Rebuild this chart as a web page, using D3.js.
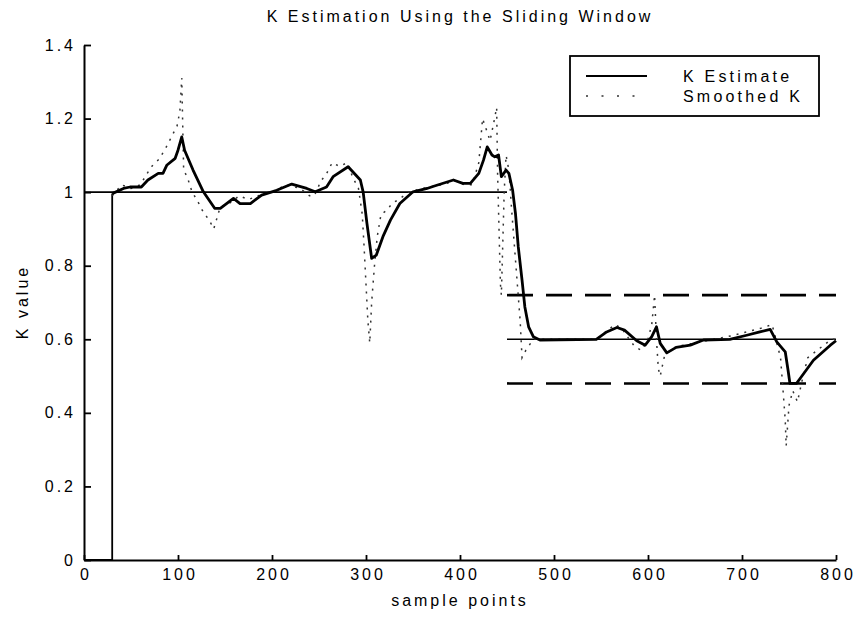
<!DOCTYPE html>
<html><head><meta charset="utf-8">
<script src="https://cdn.jsdelivr.net/npm/d3@7"></script>
<style>body{margin:0;background:#fff}text{font-family:"Liberation Sans",Arial,sans-serif;fill:#000}</style>
</head><body><svg id="c" width="860" height="618"></svg>
<script>
const title = "K Estimation Using the Sliding Window";
const xLabel = "sample points";
const yLabel = "K value";
const xTicks = [0,100,200,300,400,500,600,700,800];
const yTicks = [0,0.2,0.4,0.6,0.8,1,1.2,1.4];
const legendLabels = ["K Estimate","Smoothed K"];

// start-up of the estimate (window not yet filled)
const startX = [0,30,30];
const startY = [0,0,0.996];

// K estimate (thick solid)
const estX = [30,42,49,61,68,79,84,88,97,100,104,107,116,127,139,145,159,166,177,189,205,221,237,246,258,265,281,294,297,301,306,311,318,326,336,350,365,372,393,403,411,420,425,429,434,437,441,444,449,452,456,459,462,466,469,473,478,485,545,556,567,575,588,597,604,609,613,620,630,645,659,687,705,719,730,737,746,749,751,758,762,776,794,800];
const estY = [0.996,1.010,1.014,1.014,1.033,1.051,1.051,1.073,1.092,1.114,1.150,1.114,1.060,1.001,0.956,0.956,0.983,0.969,0.969,0.992,1.005,1.022,1.010,1.001,1.014,1.042,1.069,1.033,1.000,0.915,0.820,0.829,0.879,0.924,0.969,1.001,1.010,1.016,1.033,1.024,1.024,1.051,1.087,1.123,1.101,1.096,1.101,1.042,1.060,1.051,1.005,0.942,0.851,0.761,0.688,0.634,0.607,0.598,0.600,0.620,0.632,0.625,0.596,0.584,0.607,0.634,0.589,0.563,0.578,0.584,0.598,0.600,0.611,0.620,0.627,0.593,0.566,0.516,0.480,0.480,0.494,0.543,0.584,0.596];

// Smoothed K (dotted)
const smX = [30,40,50,60,67,72,80,87,93,99,102,104,106,110,115,120,126,134,138,145,155,165,175,185,200,215,230,240,245,252,258,264,272,280,286,292,296,298,300,302,304,306,309,312,316,322,328,335,345,360,380,395,405,413,420,424,428,432,436,439,440,441,442,443,444,447,449,452,455,458,461,464,466,470,478,490,520,545,555,565,572,580,586,593,600,604,607,609,611,613,618,630,650,670,690,705,720,732,738,741,744,746,747,750,754,759,765,770,780,795,800];
const smY = [0.99,1.02,1.01,1.02,1.05,1.07,1.09,1.12,1.15,1.18,1.22,1.31,1.06,1.04,1.0,0.98,0.95,0.92,0.90,0.96,0.97,0.99,0.98,0.99,1.0,1.02,1.01,0.99,0.99,1.03,1.05,1.08,1.07,1.08,1.04,1.01,0.94,0.85,0.75,0.65,0.59,0.70,0.80,0.88,0.94,0.95,0.97,0.98,1.0,1.01,1.02,1.03,1.02,1.02,1.08,1.20,1.17,1.14,1.19,1.23,1.05,0.95,0.85,0.75,0.72,1.0,1.10,1.06,0.95,0.85,0.75,0.65,0.55,0.57,0.60,0.60,0.60,0.60,0.62,0.64,0.63,0.60,0.58,0.57,0.60,0.64,0.72,0.60,0.52,0.50,0.56,0.58,0.59,0.60,0.61,0.62,0.63,0.64,0.58,0.55,0.45,0.38,0.31,0.42,0.46,0.43,0.50,0.55,0.57,0.60,0.60];

// True K (thin solid, two pieces)
const trueX = [0,450,null,450,800];
const trueY = [1,1,null,0.6,0.6];
// +/-20% bounds (dashed)
const boundX = [450,800];
const upperY = [0.72,0.72];
const lowerY = [0.48,0.48];

const svg = d3.select("#c");
const x = d3.scaleLinear().domain([0,800]).range([84,836]);
const y = d3.scaleLinear().domain([0,1.4]).range([560,45]);

const line = d3.line().defined(d=>d[0]!==null).x(d=>x(d[0])).y(d=>y(d[1]));
const zip = (a,b)=>a.map((v,i)=>[v,b[i]]);
const FS = 16, LS = 3;

svg.append("path").attr("d",line(zip(trueX,trueY))).attr("fill","none").attr("stroke","#000").attr("stroke-width",1.6);
svg.append("path").attr("d",line(zip(startX,startY))).attr("fill","none").attr("stroke","#000").attr("stroke-width",1.8);
svg.append("path").attr("d",line(zip(boundX,upperY))).attr("fill","none").attr("stroke","#000").attr("stroke-width",2.6).attr("stroke-dasharray","26,13");
svg.append("path").attr("d",line(zip(boundX,lowerY))).attr("fill","none").attr("stroke","#000").attr("stroke-width",2.6).attr("stroke-dasharray","26,13");
svg.append("path").attr("d",line(zip(smX,smY))).attr("fill","none").attr("stroke","#333").attr("stroke-width",1.5).attr("stroke-dasharray","2,6");
svg.append("path").attr("d",line(zip(estX,estY))).attr("fill","none").attr("stroke","#000").attr("stroke-width",2.8).attr("stroke-linejoin","round");

// axes
const xAx = svg.append("g").attr("transform","translate(0,560)")
  .call(d3.axisBottom(x).tickValues(xTicks).tickFormat(d3.format("d")).tickSizeInner(-5).tickSizeOuter(0).tickPadding(9));
const yAx = svg.append("g").attr("transform","translate(84,0)")
  .call(d3.axisLeft(y).tickValues(yTicks).tickFormat(d=>String(+d.toFixed(1))).tickSizeInner(-7).tickSizeOuter(0).tickPadding(8));
[xAx,yAx].forEach(g=>{
  g.select(".domain").attr("stroke","#000").attr("stroke-width",2);
  g.selectAll(".tick line").attr("stroke","#000").attr("stroke-width",1.8);
  g.selectAll(".tick text").attr("font-size",FS).attr("letter-spacing",LS).attr("fill","#000").style("font-family","'Liberation Sans',Arial,sans-serif");
});
xAx.selectAll(".tick text").attr("dx",LS/2);

svg.append("text").attr("x",460).attr("y",22).attr("text-anchor","middle").attr("font-size",FS).attr("letter-spacing",LS).text(title);
svg.append("text").attr("x",460).attr("y",606).attr("text-anchor","middle").attr("font-size",FS).attr("letter-spacing",LS).text(xLabel);
svg.append("text").attr("transform","translate(28,302) rotate(-90)").attr("text-anchor","middle").attr("font-size",FS).attr("letter-spacing",LS).text(yLabel);

// legend
const lg = svg.append("g");
lg.append("rect").attr("x",570).attr("y",56).attr("width",249).attr("height",60).attr("fill","#fff").attr("stroke","#000").attr("stroke-width",1.8);
lg.append("line").attr("x1",586).attr("x2",647).attr("y1",76).attr("y2",76).attr("stroke","#000").attr("stroke-width",2);
lg.append("line").attr("x1",586).attr("x2",647).attr("y1",96).attr("y2",96).attr("stroke","#333").attr("stroke-width",1.5).attr("stroke-dasharray","2,13.5");
lg.selectAll("text.l").data(legendLabels).join("text").attr("class","l")
  .attr("x",683).attr("y",(d,i)=>82+i*20).attr("font-size",FS).attr("letter-spacing",3.2).text(d=>d);
</script></body></html>
